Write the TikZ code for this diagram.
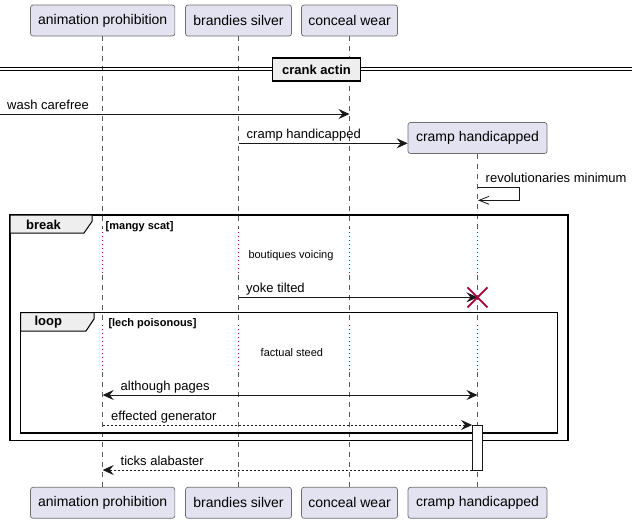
\documentclass[tikz,border=0pt]{standalone}
\usepackage{fontspec}
\setmainfont{Liberation Sans}
\usetikzlibrary{arrows.meta}
\definecolor{pfill}{HTML}{E2E2F0}
\definecolor{pborder}{HTML}{6E6E6E}
\definecolor{lcol}{HTML}{5A5A5A}
\definecolor{dred}{HTML}{A80036}
\definecolor{gfill}{HTML}{EEEEEE}
\definecolor{ink}{HTML}{181818}
\begin{document}
\begin{tikzpicture}[x=1pt,y=-1pt,
 part/.style={draw=pborder, fill=pfill, rounded corners=2.5pt, line width=0.7pt, minimum height=31pt, inner sep=0pt, font=\fontsize{14}{16}\selectfont, text=black},
 life/.style={draw=lcol, line width=0.7pt, dash pattern=on 5pt off 5pt},
 delayl/.style={draw=dred, line width=1pt, dash pattern=on 1pt off 3pt},
 tipf/.tip={Stealth[length=11pt,width=10pt,inset=4pt]},
 msg/.style={draw=ink, line width=0.8pt, -tipf},
 rmsg/.style={msg, dash pattern=on 2pt off 2pt},
 lbl/.style={anchor=base west, inner sep=0pt, font=\fontsize{13}{15}\selectfont},
 dlbl/.style={anchor=base west, inner sep=0pt, font=\fontsize{11}{13}\selectfont},
 cond/.style={anchor=base west, inner sep=0pt, font=\fontsize{11}{13}\selectfont\bfseries},
 frm/.style={draw=black, line width=1.5pt},
 tab/.style={draw=black, fill=gfill, line width=1pt},
 tabtxt/.style={inner sep=0pt, font=\fontsize{13}{15}\selectfont\bfseries},
 actbox/.style={draw=ink, fill=white, line width=0.8pt, minimum width=10pt, minimum height=45pt, inner sep=0pt}
]
\useasboundingbox (0,0) rectangle (636,523);

% participants (top)
\node[part, minimum width=144.3pt] (pa) at (102.7,20.5) {animation prohibition};
\node[part, minimum width=106pt]   (pb) at (238.5,20.5) {brandies silver};
\node[part, minimum width=96pt]    (pc) at (349.5,20.5) {conceal wear};
% participants (bottom)
\node[part, minimum width=144.3pt] (qa) at (102.7,502.8) {animation prohibition};
\node[part, minimum width=106pt]   (qb) at (238.5,502.8) {brandies silver};
\node[part, minimum width=96pt]    (qc) at (349.5,502.8) {conceal wear};
\node[part, minimum width=139pt]   (qd) at (477.5,502.8) {cramp handicapped};

% lifeline key points
\foreach \n/\x in {a/102.7, b/238.5, c/349.5, d/477.5} {
  \coordinate (\n-d1s) at (\x,228);
  \coordinate (\n-d1e) at (\x,275);
  \coordinate (\n-d2s) at (\x,325);
  \coordinate (\n-d2e) at (\x,372);
}

% created participant
\node[part, minimum width=139pt] (pd) at (477.5,138) {cramp handicapped};

% lifelines
\foreach \n in {a,b,c} {
  \draw[life] (p\n.south) -- (\n-d1s);
  \draw[delayl] (\n-d1s) -- (\n-d1e);
  \draw[life] (\n-d1e) -- (\n-d2s);
  \draw[delayl] (\n-d2s) -- (\n-d2e);
  \draw[life] (\n-d2e) -- (q\n.north);
}
\draw[life] (pd.south) -- (d-d1s);
\draw[delayl] (d-d1s) -- (d-d1e);
\draw[life] (d-d1e) -- (d-d2s);
\draw[delayl] (d-d2s) -- (d-d2e);
\draw[life] (d-d2e) -- (qd.north);

% divider
\coordinate (dvl1) at (0,67.7);  \coordinate (dvr1) at (632,67.7);
\coordinate (dvl2) at (0,70.7);  \coordinate (dvr2) at (632,70.7);
\draw[line width=1pt] (dvl1) -- (dvr1);
\draw[line width=1pt] (dvl2) -- (dvr2);
\node[draw=black, fill=gfill, line width=1.5pt, minimum width=88pt, minimum height=23pt, inner sep=0pt, font=\fontsize{13}{15}\selectfont\bfseries] (div) at (316.5,69.7) {crank actin};

% wash carefree
\coordinate (w0) at (0,114);
\coordinate (w1) at (349.5,114);
\draw[msg] (w0) -- (w1);
\node[lbl] (wt) at (7,109) {wash carefree};

% create message
\coordinate (c0) at (238.5,143.3);
\draw[msg] (c0) -- (pd.west |- c0);
\node[lbl] (ct) at (246.5,138.5) {cramp handicapped};

% self message
\coordinate (s0) at (477.5,187.7);
\coordinate (s1) at (519,187.7);
\coordinate (s2) at (519,200.3);
\coordinate (s3) at (478,200.3);
\draw[draw=ink, line width=0.8pt, -{Straight Barb[length=10pt,width=8pt]}] (s0) -- (s1) -- (s2) -- (s3);
\node[lbl] (st) at (485.5,182.7) {revolutionaries minimum};

% break frame
\coordinate (bf1) at (10,215);
\coordinate (bf2) at (568,440.5);
\draw[frm] (bf1) rectangle (bf2);
\draw[tab] (10,215) -- (92,215) -- (92,221.5) -- (84,233) -- (10,233) -- cycle;
\node[tabtxt] (bt) at (43.5,224.5) {break};
\node[cond] (bc) at (105.5,229.8) {[mangy scat]};

% delay 1
\node[dlbl] (dl1) at (248.3,258.5) {boutiques voicing};

% yoke tilted + destroy
\coordinate (y0) at (238.5,297.3);
\coordinate (y1) at (477.5,297.3);
\draw[msg] (y0) -- (y1);
\node[lbl] (yt) at (246,292.5) {yoke tilted};
\draw[dred, line width=1.8pt] (467.5,287.3) -- (487.5,307.3);
\draw[dred, line width=1.8pt] (467.5,307.3) -- (487.5,287.3);

% loop frame
\coordinate (lf1) at (20.5,312.5);
\coordinate (lf2) at (557.5,433);
\draw[frm] (lf1) rectangle (lf2);
\draw[tab] (20.5,312.5) -- (94,312.5) -- (94,319) -- (86,331) -- (20.5,331) -- cycle;
\node[tabtxt] (lt) at (48.3,321.8) {loop};
\node[cond] (lc) at (108.3,326) {[lech poisonous]};

% delay 2
\node[dlbl] (dl2) at (260.5,356.5) {factual steed};

% although pages
\coordinate (ap0) at (102.7,395);
\coordinate (ap1) at (477.5,395);
\draw[draw=ink, line width=0.8pt, tipf-tipf] (ap0) -- (ap1);
\node[lbl] (apt) at (120.5,390) {although pages};

% activation
\node[actbox] (act) at (477.5,447.5) {};

% effected generator
\coordinate (eg0) at (102.7,425);
\draw[rmsg] (eg0) -- (act.west |- eg0);
\node[lbl] (egt) at (111,420) {effected generator};

% ticks alabaster
\coordinate (ta1) at (102.7,470);
\draw[rmsg] (act.west |- ta1) -- (ta1);
\node[lbl] (tat) at (120.5,465) {ticks alabaster};
\end{tikzpicture}
\end{document}
